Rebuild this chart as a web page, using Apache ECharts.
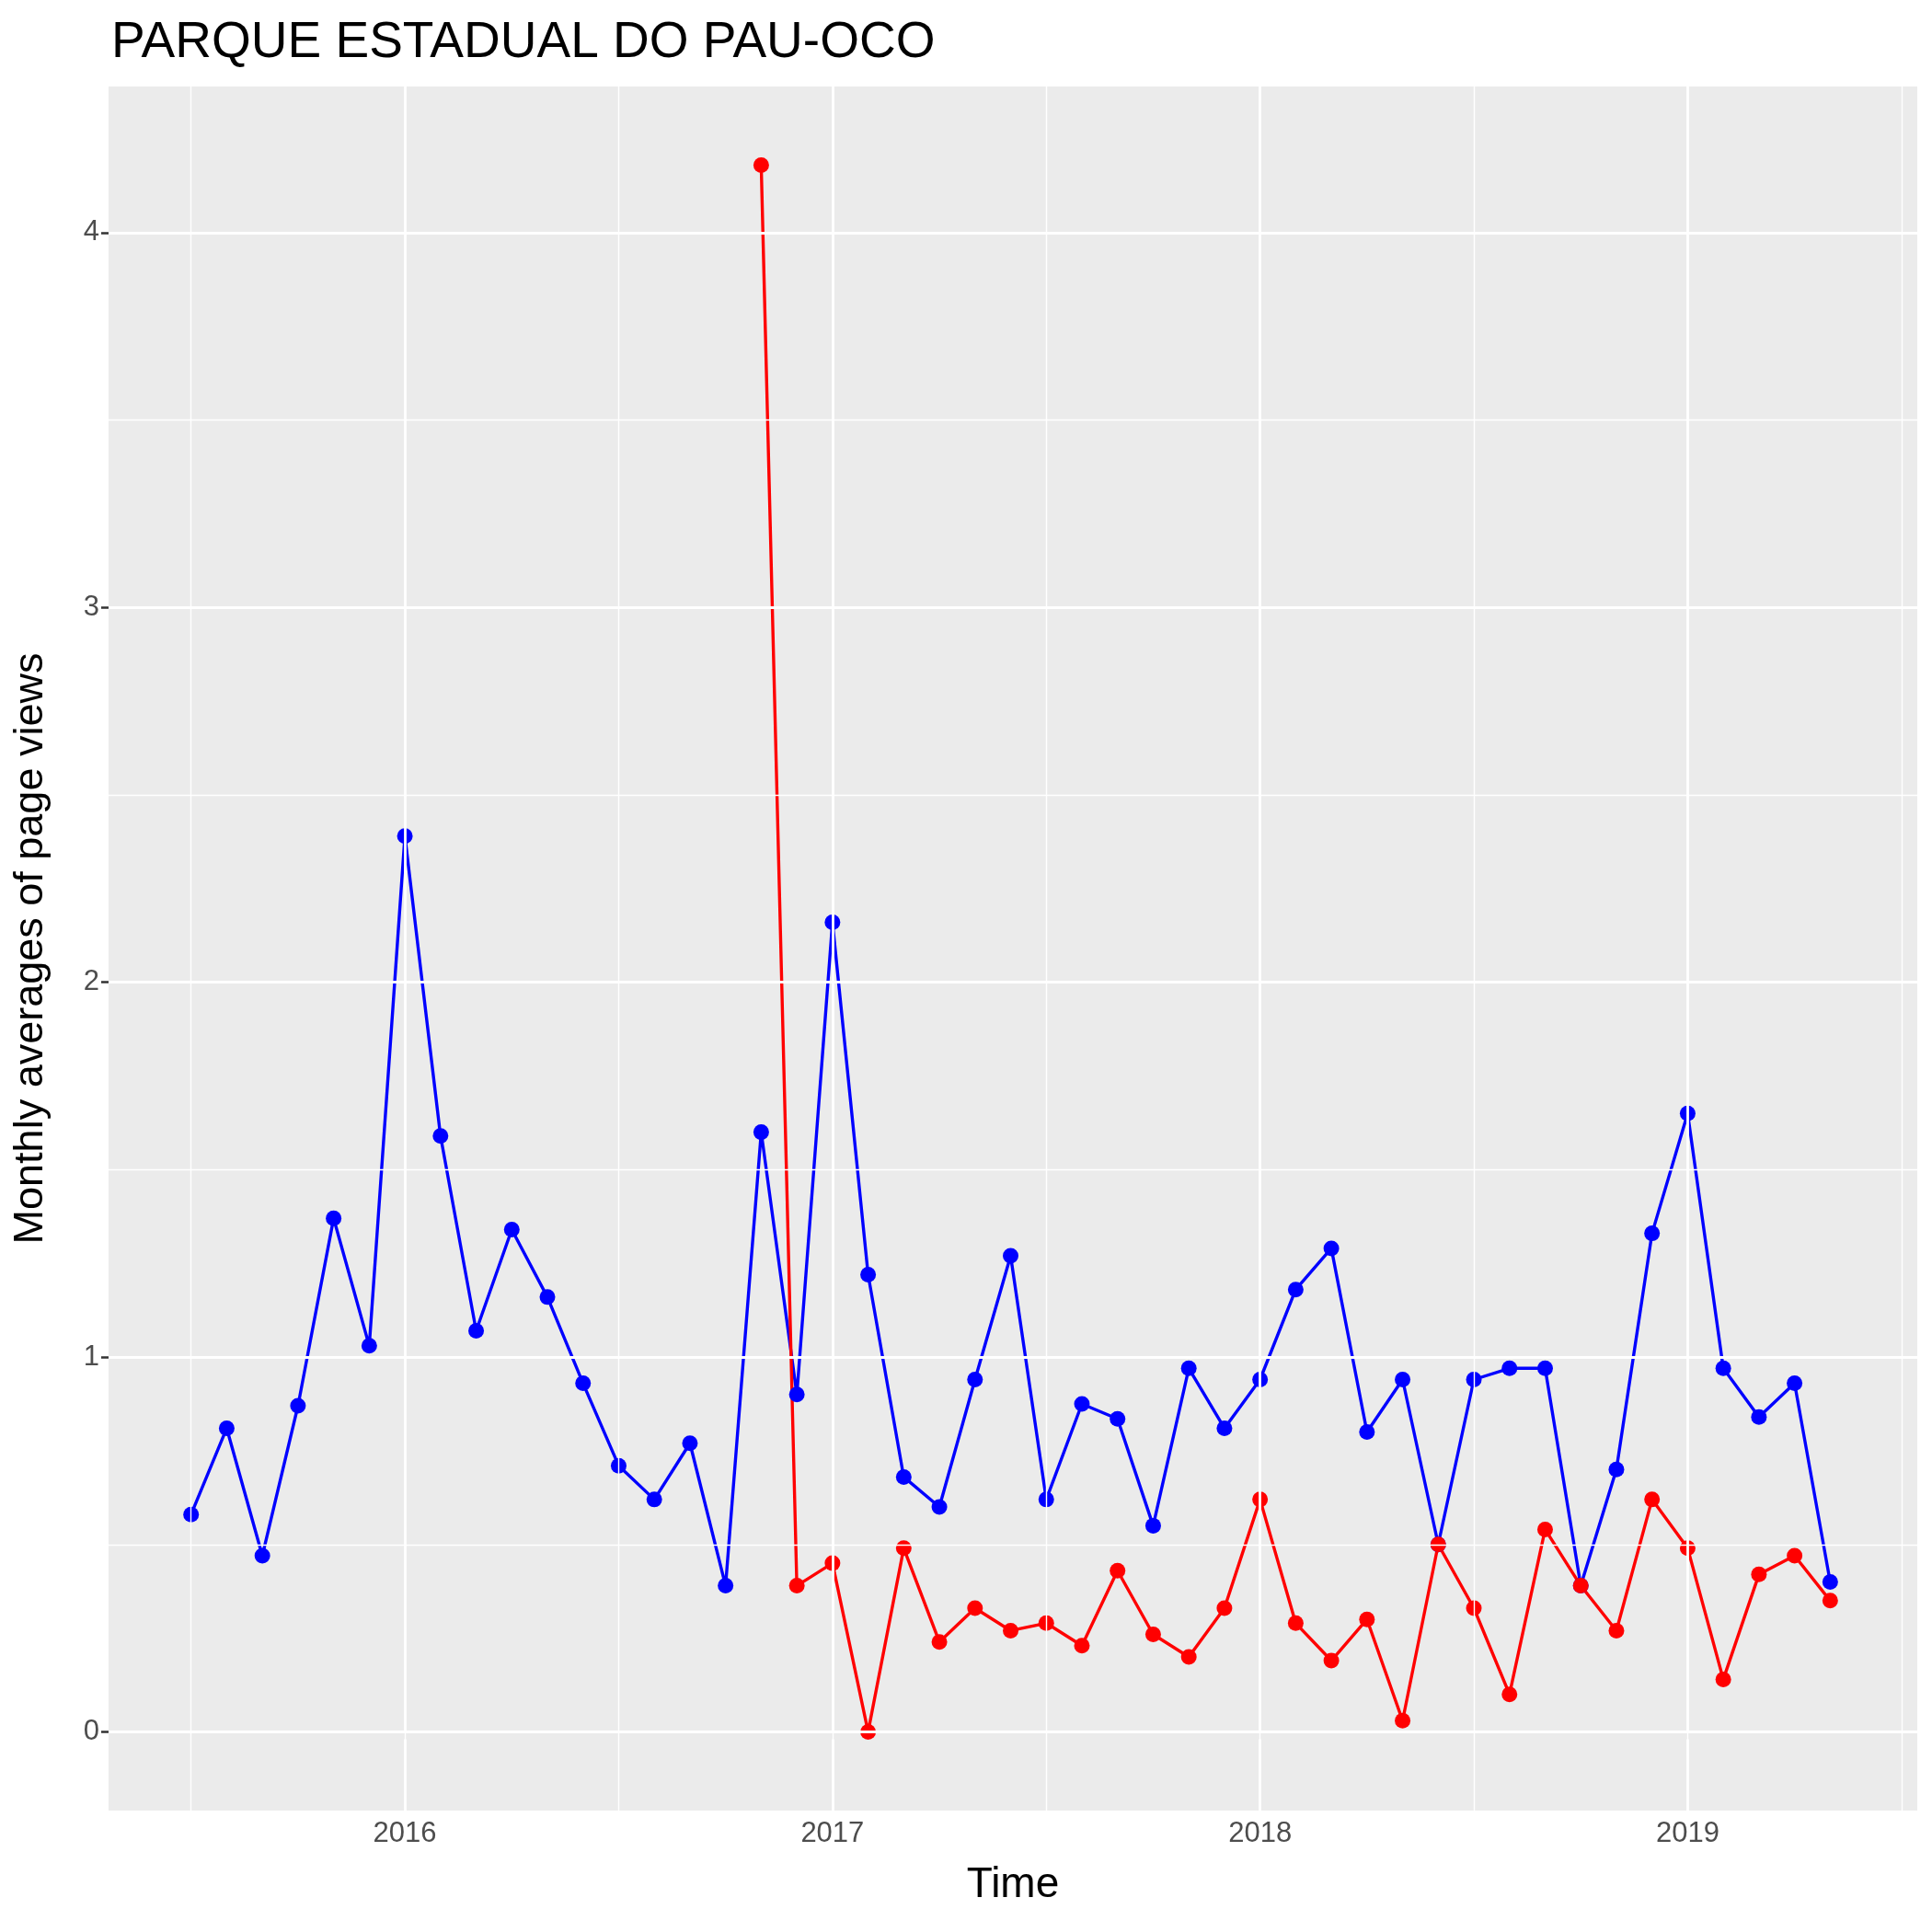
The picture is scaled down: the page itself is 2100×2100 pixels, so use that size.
<!DOCTYPE html>
<html><head><meta charset="utf-8">
<script src="https://cdn.jsdelivr.net/npm/echarts@6/dist/echarts.min.js"></script>
<style>html,body{margin:0;padding:0;background:#fff}#chart{width:2100px;height:2100px}</style>
</head><body><div id="chart"></div>
<script>
// months as 'YYYY-MM'
const blueMonths = ['2015-07','2015-08','2015-09','2015-10','2015-11','2015-12',
  '2016-01','2016-02','2016-03','2016-04','2016-05','2016-06','2016-07','2016-08','2016-09','2016-10','2016-11','2016-12',
  '2017-01','2017-02','2017-03','2017-04','2017-05','2017-06','2017-07','2017-08','2017-09','2017-10','2017-11','2017-12',
  '2018-01','2018-02','2018-03','2018-04','2018-05','2018-06','2018-07','2018-08','2018-09','2018-10','2018-11','2018-12',
  '2019-01','2019-02','2019-03','2019-04','2019-05'];
const blueValues = [0.58,0.81,0.47,0.87,1.37,1.03,
  2.39,1.59,1.07,1.34,1.16,0.93,0.71,0.62,0.77,0.39,1.60,0.90,
  2.16,1.22,0.68,0.60,0.94,1.27,0.62,0.875,0.835,0.55,0.97,0.81,
  0.94,1.18,1.29,0.80,0.94,0.50,0.94,0.97,0.97,0.39,0.70,1.33,
  1.65,0.97,0.84,0.93,0.40];
const redMonths = ['2016-11','2016-12',
  '2017-01','2017-02','2017-03','2017-04','2017-05','2017-06','2017-07','2017-08','2017-09','2017-10','2017-11','2017-12',
  '2018-01','2018-02','2018-03','2018-04','2018-05','2018-06','2018-07','2018-08','2018-09','2018-10','2018-11','2018-12',
  '2019-01','2019-02','2019-03','2019-04','2019-05'];
const redValues = [4.18,0.39,
  0.45,0.0,0.49,0.24,0.33,0.27,0.29,0.23,0.43,0.26,0.20,0.33,
  0.62,0.29,0.19,0.30,0.03,0.50,0.33,0.10,0.54,0.39,0.27,0.62,
  0.49,0.14,0.42,0.47,0.35];
const xMajor = [2016,2017,2018,2019];
const xMinor = [2015.5,2016.5,2017.5,2018.5,2019.5];
const yMajor = [0,1,2,3,4];
const yMinor = [0.5,1.5,2.5,3.5];

const toX = m => { const [y, mo] = m.split('-').map(Number); return y + (mo - 1) / 12; };
const pairs = (ms, vs) => ms.map((m, i) => [toX(m), vs[i]]);

const gridLines = [];
xMinor.forEach(v => gridLines.push({xAxis: v, lineStyle: {width: 1.4}}));
yMinor.forEach(v => gridLines.push({yAxis: v, lineStyle: {width: 1.4}}));
xMajor.forEach(v => gridLines.push({xAxis: v, lineStyle: {width: 2.8}}));
yMajor.forEach(v => gridLines.push({yAxis: v, lineStyle: {width: 2.8}}));

const chart = echarts.init(document.getElementById('chart'));
const lineSeries = (data, color) => ({
  type: 'line', data, z: 3, symbol: 'circle', symbolSize: 17,
  itemStyle: {color}, lineStyle: {color, width: 3.4}, animation: false
});
chart.setOption({
  animation: false,
  backgroundColor: '#fff',
  title: {text: 'PARQUE ESTADUAL DO PAU-OCO', left: 116, top: 14,
    textStyle: {fontFamily: 'Liberation Sans', fontSize: 55, fontWeight: 'normal', color: '#000'}},
  grid: {left: 118, right: 16, top: 94, bottom: 132, backgroundColor: '#EBEBEB', show: true, borderWidth: 0},
  xAxis: {
    type: 'value', min: 2015.307, max: 2019.537,
    name: 'Time', nameLocation: 'middle', nameGap: 58,
    nameTextStyle: {fontFamily: 'Liberation Sans', fontSize: 46, color: '#000'},
    axisLine: {show: false}, splitLine: {show: false},
    axisTick: {show: true, customValues: xMajor, length: 8, lineStyle: {color: '#333', width: 2.5}},
    axisLabel: {customValues: xMajor, formatter: v => String(v), fontFamily: 'Liberation Sans', fontSize: 31, color: '#4D4D4D', margin: 10}
  },
  yAxis: {
    type: 'value', min: -0.21, max: 4.39,
    name: 'Monthly averages of page views', nameLocation: 'middle', nameGap: 62,
    nameTextStyle: {fontFamily: 'Liberation Sans', fontSize: 45, color: '#000'},
    axisLine: {show: false}, splitLine: {show: false},
    axisTick: {show: true, customValues: yMajor, length: 8, lineStyle: {color: '#333', width: 2.5}},
    axisLabel: {customValues: yMajor, formatter: v => String(v), fontFamily: 'Liberation Sans', fontSize: 31, color: '#4D4D4D', margin: 10}
  },
  series: [
    {type: 'line', data: [], z: 1, silent: true,
      markLine: {silent: true, symbol: 'none', label: {show: false}, animation: false,
        lineStyle: {color: '#fff', type: 'solid'}, data: gridLines}},
    lineSeries(pairs(blueMonths, blueValues), '#0000FF'),
    lineSeries(pairs(redMonths, redValues), '#FF0000')
  ]
});
</script></body></html>
